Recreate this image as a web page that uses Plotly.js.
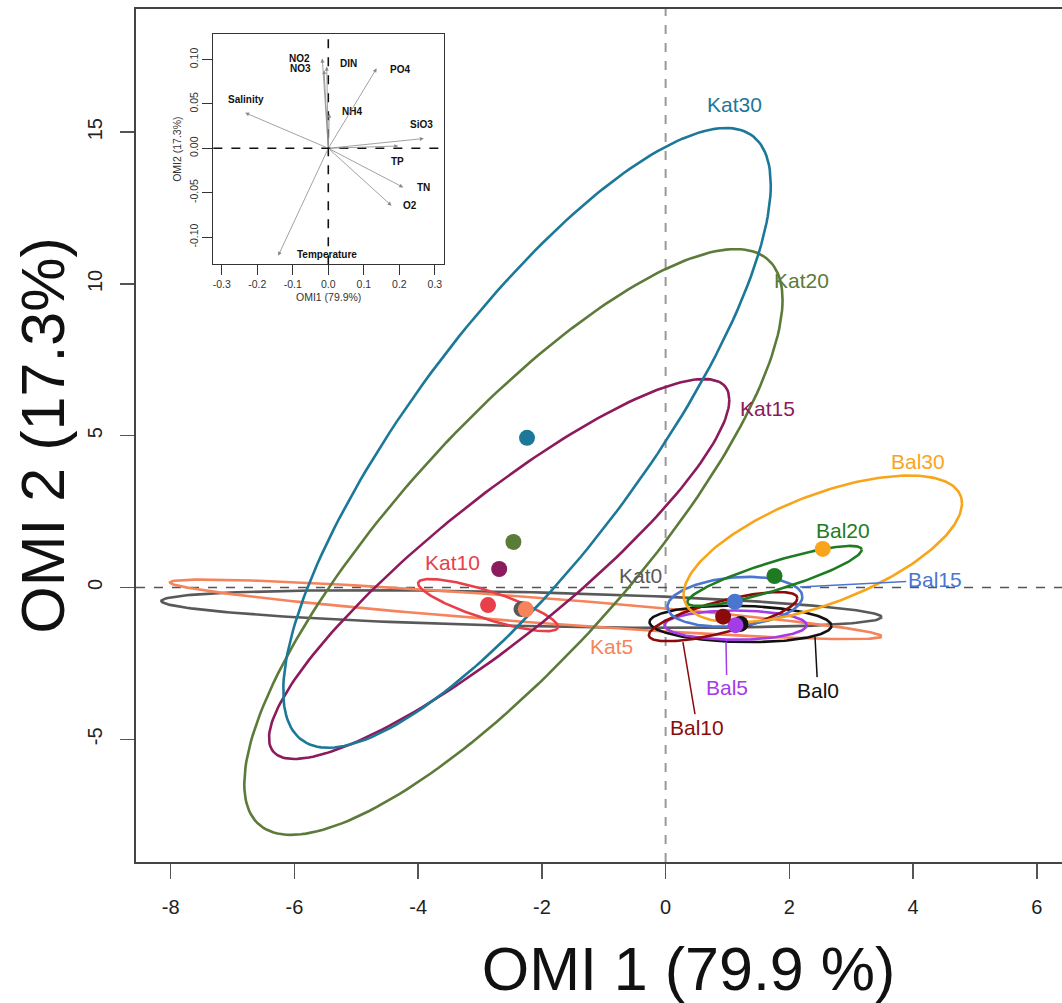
<!DOCTYPE html>
<html>
<head>
<meta charset="utf-8">
<script src="https://cdn.plot.ly/plotly-3.0.1.min.js"></script>
<style>
html,body{margin:0;padding:0;overflow:hidden;background:#fff;}
#chart{width:1242px;height:1003px;}
</style>
</head>
<body>
<div id="chart"></div>
<script>
// ---- Main OMI plot: groups, centroids, ellipse parameters ----
const groups = ['Kat0','Kat5','Kat10','Kat15','Kat20','Kat30','Bal0','Bal5','Bal10','Bal15','Bal20','Bal30'];
const groupColors = ['#595959','#f5845c','#e8404a','#8c1a5c','#5c7a38','#1c7898','#111111','#a33ce6','#8b0b0b','#4a76d0','#1e7b22','#f8a51c'];
const centX = [-2.33,-2.26,-2.87,-2.69,-2.46,-2.24, 1.21, 1.13, 0.93, 1.12, 1.76, 2.54];
const centY = [-0.71,-0.72,-0.58, 0.61, 1.50, 4.93,-1.20,-1.24,-0.96,-0.47, 0.38, 1.27];
const ellSx = [5.82, 5.75, 1.13, 3.72, 4.35, 3.94, 1.47, 1.15, 1.20, 1.09, 1.41, 2.25];
const ellSy = [0.62, 0.98, 0.86, 6.26, 9.65,10.21, 0.60, 0.48, 0.81, 0.82, 0.99, 2.42];
const ellRho = [-0.43,-0.906,-0.83,0.89,0.826,0.816,-0.10,0.0,0.75,0.20,0.87,0.62];
// group label anchors (data units) and optional pointer targets
const labelX = [-0.40,-0.87,-3.45,1.65,2.20,1.12, 2.46, 0.99, 0.51, 4.35, 2.87, 4.08];
const labelY = [ 0.41,-1.96, 0.81,5.91,10.13,15.90,-3.38,-3.31,-4.60, 0.25, 1.89, 4.14];
const pointerX = [null,null,null,null,null,null, 2.415, 0.976, 0.28, 2.17, null, null];
const pointerY = [null,null,null,null,null,null,-1.63,-1.80,-1.80, 0.02, null, null];
const xTicks = [-8,-6,-4,-2,0,2,4,6];
const yTicks = [-5,0,5,10,15];

// ---- Inset: variable loadings ----
const vars = ['Salinity','NO2','NO3','DIN','NH4','PO4','SiO3','TP','TN','O2','Temperature'];
const loadX = [-0.234,-0.017,-0.012,-0.0045,0.003,0.136,0.269,0.197,0.211,0.178,-0.141];
const loadY = [ 0.040, 0.101, 0.088, 0.092,0.039,0.090,0.011,0.0026,-0.044,-0.0646,-0.121];
const varLabX = [-0.231,-0.080,-0.078,0.058,0.066,0.202,0.263,0.194,0.267,0.230,-0.0045];
const varLabY = [ 0.0555,0.101,0.090,0.096,0.041,0.089,0.027,-0.015,-0.044,-0.064,-0.120];
const insetXTicks = [-0.3,-0.2,-0.1,0.0,0.1,0.2,0.3];
const insetYTicks = [-0.10,-0.05,0.00,0.05,0.10];

const FONT = 'Liberation Sans, Arial, sans-serif';

function ellipse(i){
  const xs=[], ys=[], n=200;
  const r=ellRho[i], q=Math.sqrt(1-r*r);
  for(let k=0;k<=n;k++){
    const t=2*Math.PI*k/n;
    xs.push(centX[i]+ellSx[i]*Math.cos(t));
    ys.push(centY[i]+ellSy[i]*(r*Math.cos(t)+q*Math.sin(t)));
  }
  return {x:xs,y:ys};
}

const traces=[];
groups.forEach((g,i)=>{
  const e=ellipse(i);
  traces.push({type:'scatter',mode:'lines',x:e.x,y:e.y,name:g,
    line:{color:groupColors[i],width:2.6},hoverinfo:'skip',showlegend:false,xaxis:'x',yaxis:'y'});
});
traces.push({type:'scatter',mode:'markers',x:centX,y:centY,text:groups,
  marker:{color:groupColors,size:16,line:{width:0}},showlegend:false,xaxis:'x',yaxis:'y'});

const annotations=[];
groups.forEach((g,i)=>{
  const a={text:g,xref:'x',yref:'y',font:{family:FONT,size:21,color:groupColors[i]}};
  if(pointerX[i]!==null){
    Object.assign(a,{x:pointerX[i],y:pointerY[i],ax:labelX[i],ay:labelY[i],axref:'x',ayref:'y',
      showarrow:true,arrowhead:0,arrowwidth:1.5,arrowcolor:groupColors[i],standoff:0,startstandoff:0});
  } else {
    Object.assign(a,{x:labelX[i],y:labelY[i],showarrow:false});
  }
  annotations.push(a);
});
vars.forEach((v,i)=>{
  annotations.push({x:loadX[i],y:loadY[i],ax:0,ay:0,xref:'x2',yref:'y2',axref:'x2',ayref:'y2',
    text:'',showarrow:true,arrowhead:2,arrowsize:1,arrowwidth:0.8,arrowcolor:'#8a8a8a'});
  annotations.push({x:varLabX[i],y:varLabY[i],xref:'x2',yref:'y2',text:'<b>'+v+'</b>',showarrow:false,
    font:{family:FONT,size:10,color:'#111'}});
});

const shapes=[
  {type:'line',xref:'x',yref:'paper',x0:0,x1:0,y0:0,y1:1,line:{color:'#999',width:2,dash:'dash'},layer:'below'},
  {type:'line',xref:'paper',yref:'y',x0:0,x1:1,y0:0,y1:0,line:{color:'#555',width:1.6,dash:'dash'},layer:'below'},
  {type:'line',xref:'x2',yref:'y2 domain',x0:0,x1:0,y0:0,y1:1,line:{color:'#111',width:1.6,dash:'dash'}},
  {type:'line',xref:'x2 domain',yref:'y2',x0:0,x1:1,y0:0,y1:0,line:{color:'#111',width:1.6,dash:'dash'}}
];

const layout={
  width:1242,height:1003,
  margin:{l:136,r:1,t:9,b:141},
  paper_bgcolor:'#fff',plot_bgcolor:'rgba(0,0,0,0)',
  font:{family:FONT,color:'#222'},
  showlegend:false,
  xaxis:{range:[-8.56,9.30],tickvals:xTicks,ticktext:xTicks.map(v=>String(v)),ticks:'outside',ticklen:15,tickwidth:1.5,tickcolor:'#555',
    showline:true,mirror:true,linecolor:'#444',linewidth:2,showgrid:false,zeroline:false,
    tickfont:{size:20,color:'#222'},ticklabelstandoff:11,
    title:{text:'OMI 1 (79.9 %)',font:{size:61,color:'#111'},standoff:30}},
  yaxis:{range:[-9.044,19.06],tickvals:yTicks,ticktext:yTicks.map(v=>String(v)),tickangle:-90,ticks:'outside',ticklen:14,tickwidth:1.5,tickcolor:'#555',
    showline:true,mirror:true,linecolor:'#444',linewidth:2,showgrid:false,zeroline:false,
    tickfont:{size:20,color:'#222'},ticklabelstandoff:10,
    title:{text:'OMI 2 (17.3%)',font:{size:61,color:'#111'},standoff:0}},
  xaxis2:{domain:[0.0700,0.2787],anchor:'y2',range:[-0.3235,0.3255],tickvals:insetXTicks,ticktext:insetXTicks.map(v=>v.toFixed(1)),
    ticks:'outside',ticklen:10,tickwidth:1,tickcolor:'#333',showline:true,mirror:true,linecolor:'#333',linewidth:1,
    showgrid:false,zeroline:false,tickfont:{size:10.5,color:'#333'},
    title:{text:'OMI1 (79.9%)',font:{size:10.5,color:'#333'},standoff:4}},
  yaxis2:{domain:[0.7007,0.9707],anchor:'x2',range:[-0.1306,0.1287],tickvals:insetYTicks,ticktext:insetYTicks.map(v=>v.toFixed(2)),tickangle:-90,
    ticks:'outside',ticklen:10,tickwidth:1,tickcolor:'#333',showline:true,mirror:true,linecolor:'#333',linewidth:1,
    showgrid:false,zeroline:false,tickfont:{size:10.5,color:'#333'},
    title:{text:'OMI2 (17.3%)',font:{size:10.5,color:'#333'},standoff:4}},
  annotations:annotations,
  shapes:shapes
};

Plotly.newPlot('chart',traces,layout,{displayModeBar:false,staticPlot:true});
</script>
</body>
</html>
